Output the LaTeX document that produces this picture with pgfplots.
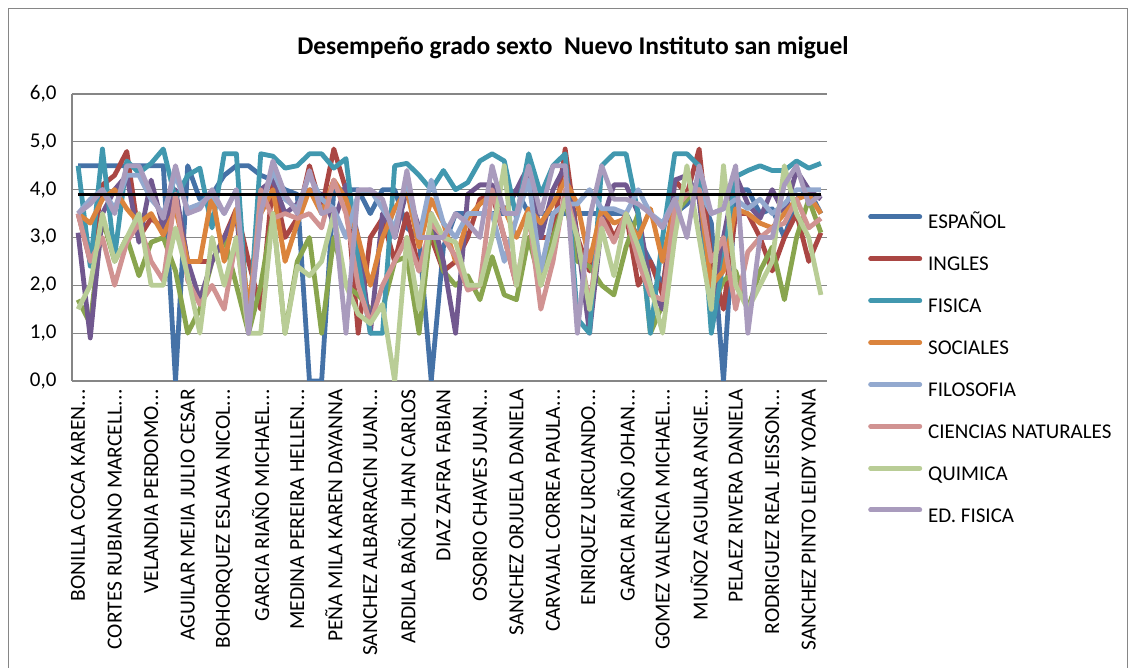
\documentclass[border=0pt]{standalone}
\usepackage{pgfplots}
\pgfplotsset{compat=1.18}
\usepackage{pgfplotstable}
\usepackage{fontspec}
\setmainfont{Carlito}
\definecolor{cesp}{HTML}{4572A7}
\definecolor{cing}{HTML}{AA4643}
\definecolor{cgrn}{HTML}{89A54E}
\definecolor{cpur}{HTML}{71588F}
\definecolor{cfis}{HTML}{4198AF}
\definecolor{csoc}{HTML}{DB843D}
\definecolor{cfil}{HTML}{93A9CF}
\definecolor{ccie}{HTML}{D19392}
\definecolor{cqui}{HTML}{B9CD96}
\definecolor{cedf}{HTML}{A99BBD}
\definecolor{gridc}{HTML}{868686}
\newcommand{\el}{.\kern0.5pt.\kern0.5pt.}
\pgfplotstableread{
x esp ing grn pur fis soc fil cie qui edf
0 4.5 3.5 1.7 3.1 4.5 3.5 3.5 3.5 1.5 3.5
1 4.5 2.5 1.2 0.9 2.4 3.3 3.8 2.5 2.0 3.7
2 4.5 4.1 3.4 3.5 4.85 3.8 4.0 3.0 3.5 4.0
3 4.5 4.3 2.5 4.0 2.6 4.0 3.6 2.0 2.5 3.5
4 4.5 4.8 3.0 4.3 4.6 3.6 4.3 2.9 3.0 4.5
5 4.5 3.0 2.2 2.9 4.35 3.3 4.3 3.3 3.5 4.5
6 4.5 3.4 2.9 4.2 4.55 3.5 3.8 2.5 2.0 3.9
7 4.5 3.2 3.0 3.2 4.85 3.05 3.5 2.1 2.0 3.4
8 0 3.9 2.3 4.0 3.8 3.6 4.3 3.9 3.2 4.5
9 4.5 2.5 1.0 2.5 4.3 2.5 3.6 2.1 2.2 3.5
10 3.8 2.5 1.5 1.7 4.45 2.5 3.7 1.6 1.0 3.6
11 3.9 2.5 2.5 2.5 3.2 3.9 3.9 2.0 3.0 4.0
12 4.3 3.0 3.0 3.0 4.75 2.5 3.5 1.5 2.0 3.5
13 4.5 3.6 2.0 3.5 4.75 3.6 4.0 3.0 3.0 4.0
14 4.5 2.5 1.0 1.0 1.0 1.5 1.0 1.0 1.0 1.0
15 4.3 1.5 2.0 4.0 4.75 3.5 3.6 4.0 1.0 3.5
16 4.2 4.2 3.5 4.2 4.7 4.0 4.4 3.4 3.5 4.6
17 4.0 3.0 1.0 3.5 4.45 2.5 3.8 3.5 1.0 3.9
18 3.9 3.4 2.5 3.7 4.5 3.3 3.6 3.4 2.4 3.5
19 0 4.5 3.0 4.0 4.75 4.0 4.3 3.5 2.2 4.4
20 0 3.6 1.0 3.9 4.75 3.5 3.8 3.2 2.5 3.5
21 4.0 4.85 3.0 3.3 4.45 4.2 3.6 4.2 3.5 3.6
22 4.0 4.0 2.0 4.1 4.65 3.8 3.0 3.5 2.0 1.0
23 4.0 1.0 1.8 3.0 2.5 3.0 3.9 2.0 1.4 4.0
24 3.5 3.0 1.5 1.0 1.0 2.0 4.0 1.2 1.2 4.0
25 4.0 3.4 1.5 3.5 1.0 3.0 3.6 2.0 1.6 3.8
26 4.0 2.5 2.5 3.0 4.5 3.6 3.2 2.5 0 3.0
27 3.2 3.5 2.6 4.0 4.55 4.0 4.2 3.0 3.0 4.4
28 3.0 2.3 1.0 3.2 4.3 2.8 3.0 2.3 1.5 3.0
29 0 3.0 3.3 3.5 4.0 3.8 4.2 3.3 3.5 3.0
30 2.8 2.3 2.3 2.5 4.4 3.3 3.3 3.0 3.0 3.0
31 3.5 2.5 2.0 1.0 4.0 2.5 3.0 2.6 2.9 3.5
32 3.5 3.0 2.2 3.9 4.15 3.4 3.5 1.9 2.0 3.3
33 3.5 3.8 1.7 4.1 4.6 3.7 3.5 2.0 2.0 3.0
34 3.5 3.9 2.6 4.1 4.75 3.9 3.5 4.0 3.0 4.5
35 3.5 3.0 1.8 3.5 4.6 3.6 2.5 3.0 4.5 3.5
36 4.0 2.0 1.7 4.0 3.4 3.0 3.4 2.0 2.0 3.5
37 3.5 3.0 3.0 4.5 4.75 3.6 4.2 3.5 3.5 4.5
38 3.5 3.0 2.0 3.0 3.9 3.3 2.3 1.5 2.0 3.5
39 3.5 3.0 3.0 4.0 4.5 3.7 3.5 2.5 2.8 4.5
40 3.5 4.85 3.8 4.5 4.75 4.2 3.7 4.0 3.8 4.5
41 3.5 3.0 2.5 3.0 1.3 3.7 3.7 3.0 3.0 1.0
42 3.5 2.3 2.4 1.0 1.0 2.5 4.0 1.6 1.5 3.4
43 3.5 3.6 2.0 3.3 4.5 3.6 3.6 3.4 3.2 4.5
44 3.5 3.0 1.8 4.1 4.75 3.3 3.6 2.9 2.2 3.8
45 3.5 3.5 2.8 4.1 4.75 3.4 3.5 3.5 3.5 3.8
46 3.0 2.0 3.5 3.5 3.5 3.0 4.0 2.5 2.8 3.7
47 2.5 2.5 1.0 2.0 1.0 3.6 3.5 1.8 2.0 3.5
48 2.0 1.8 1.6 1.5 3.0 2.5 3.3 1.7 1.0 3.2
49 3.5 4.2 3.5 4.2 4.75 3.7 3.8 3.6 3.0 3.8
50 3.7 3.9 3.8 4.3 4.75 3.9 3.9 3.9 4.5 3.0
51 4.0 4.85 4.2 3.8 4.5 4.0 4.0 4.0 3.0 4.5
52 3.3 2.5 1.5 1.5 1.0 2.0 3.5 2.5 1.5 3.5
53 0 1.5 2.1 3.0 2.5 2.3 3.6 3.0 4.5 3.6
54 4.0 3.5 2.3 4.3 4.27 3.6 3.8 1.5 2.0 4.5
55 4.0 3.5 1.5 3.7 4.4 3.5 3.6 2.7 1.5 1.0
56 3.5 3.0 2.3 3.4 4.5 3.3 3.8 3.0 2.0 3.0
57 3.6 2.3 2.8 4.0 4.4 3.2 3.5 3.2 2.5 3.0
58 3.0 3.0 1.7 3.5 4.4 3.5 3.7 3.3 4.5 4.1
59 3.8 3.5 3.0 4.4 4.6 3.8 4.0 3.8 3.5 4.5
60 4.0 2.5 3.8 4.0 4.45 3.9 4.0 3.2 3.0 3.7
61 3.5 3.1 3.1 3.8 4.55 3.5 4.0 3.4 1.8 3.9
}\datatable
\begin{document}
\begin{tikzpicture}[x=1pt,y=1pt]
\useasboundingbox (0,0) rectangle (1131,668);
\draw[gridc, line width=1pt] (8.5,0) -- (8.5,659.5) -- (1127.5,659.5) -- (1127.5,0);
\node[font=\bfseries\fontsize{25.5}{29}\selectfont] at (573,620) {Desempeño grado sexto\ \ Nuevo Instituto san miguel};
\begin{axis}[
  at={(72pt,287pt)}, anchor=south west,
  scale only axis, width=755pt, height=287pt,
  xmin=-0.5, xmax=61.5, ymin=0, ymax=6,
  axis x line=bottom, axis y line=left,
  axis line style={-, draw=gridc, line width=1.3pt},
  ymajorgrids, grid style={draw=gridc, line width=1.3pt},
  ytick={0,1,...,6},
  major tick length=0pt,
  /pgf/number format/assume math mode=true,
  /pgf/number format/fixed, /pgf/number format/fixed zerofill,
  /pgf/number format/precision=1, /pgf/number format/use comma,
  yticklabel={\pgfmathprintnumber{\tick}\hspace*{12pt}},
  yticklabel style={font=\fontsize{21}{24}\selectfont},
  xtick={0,3,...,60},
  xticklabels={BONILLA COCA KAREN\el,CORTES RUBIANO MARCELL\el,VELANDIA PERDOMO\el,AGUILAR MEJIA JULIO CESAR,BOHORQUEZ ESLAVA NICOL\el,GARCIA RIAÑO MICHAEL\el,MEDINA PEREIRA HELLEN\el,PEÑA MILA KAREN DAYANNA,SANCHEZ ALBARRACIN JUAN\el,ARDILA BAÑOL JHAN CARLOS,DIAZ ZAFRA FABIAN,OSORIO CHAVES JUAN\el,SANCHEZ ORJUELA DANIELA,CARVAJAL CORREA PAULA\el,ENRIQUEZ URCUANDO\el,GARCIA RIAÑO JOHAN\el,GOMEZ VALENCIA MICHAEL\el,MUÑOZ AGUILAR ANGIE\el,PELAEZ RIVERA DANIELA,RODRIGUEZ REAL JEISSON\el,SANCHEZ PINTO LEIDY YOANA},
  xticklabel style={rotate=90, anchor=east, inner sep=0pt, inner xsep=8pt, font=\fontsize{21.5}{23}\selectfont},
  every axis plot/.append style={line width=4.8pt, line join=round, mark=none},
  legend cell align=left,
  legend image code/.code={\draw[#1, line width=5pt, line cap=round] (2.5pt,6.8pt) -- (51.5pt,6.8pt);},
  legend style={at={(1.0543,0.5826)}, anchor=north west, draw=none, fill=none, inner sep=0pt,
    font=\fontsize{21}{24}\selectfont, row sep=22.36pt, column sep=6pt,
    nodes={inner sep=0pt, text height=15pt, text depth=4.5pt}},
]
\addplot[cesp] table[x=x, y=esp] {\datatable}; \addlegendentry{ESPAÑOL}
\addplot[cing] table[x=x, y=ing] {\datatable}; \addlegendentry{INGLES}
\addplot[cgrn, forget plot] table[x=x, y=grn] {\datatable};
\addplot[cpur, forget plot] table[x=x, y=pur] {\datatable};
\addplot[cfis] table[x=x, y=fis] {\datatable}; \addlegendentry{FISICA}
\addplot[csoc] table[x=x, y=soc] {\datatable}; \addlegendentry{SOCIALES}
\addplot[cfil] table[x=x, y=fil] {\datatable}; \addlegendentry{FILOSOFIA}
\addplot[ccie] table[x=x, y=cie] {\datatable}; \addlegendentry{CIENCIAS NATURALES}
\addplot[cqui] table[x=x, y=qui] {\datatable}; \addlegendentry{QUIMICA}
\addplot[cedf] table[x=x, y=edf] {\datatable}; \addlegendentry{ED. FISICA}
\addplot[black, line width=2.2pt, forget plot] coordinates {(0,3.9) (61,3.9)};
\end{axis}
\end{tikzpicture}
\end{document}
